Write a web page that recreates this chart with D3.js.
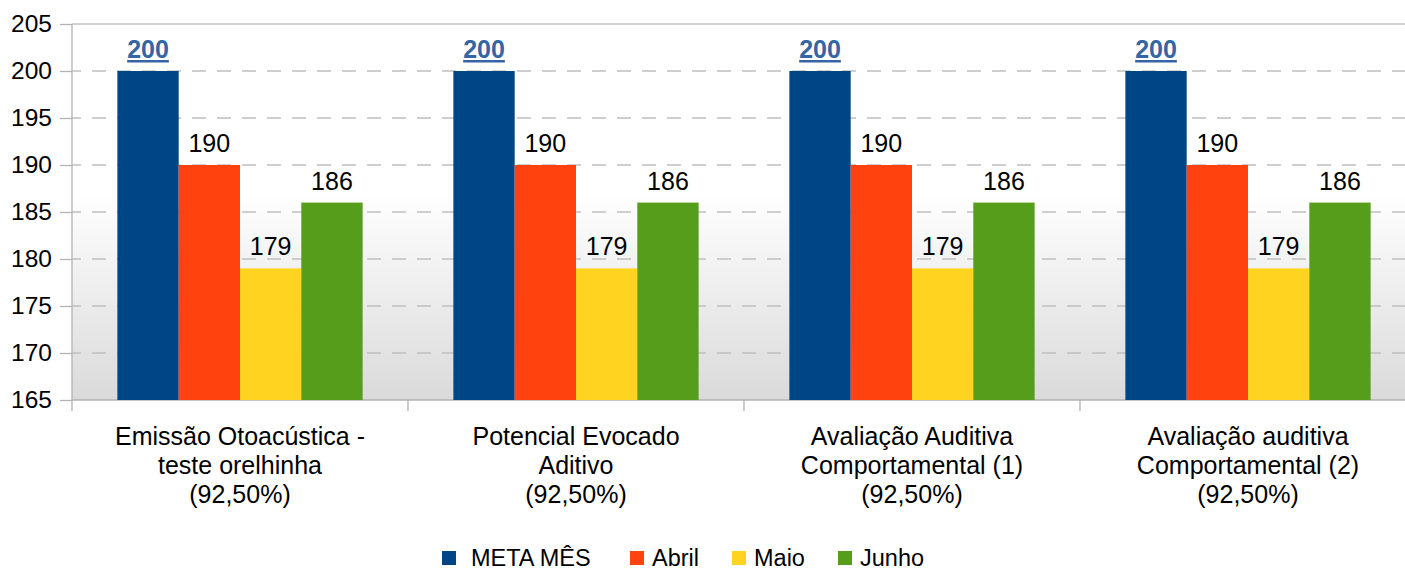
<!DOCTYPE html>
<html>
<head>
<meta charset="utf-8">
<script src="https://cdn.jsdelivr.net/npm/d3@7"></script>
<style>
  body { margin: 0; background: #fff; }
  svg { display: block; font-family: "Liberation Sans", Arial, sans-serif; }
</style>
</head>
<body>
<script>
(function(){

    //chart data
    var categories = [
        ["Emissão Otoacústica -", "teste orelhinha", "(92,50%)"],
        ["Potencial Evocado", "Aditivo", "(92,50%)"],
        ["Avaliação Auditiva", "Comportamental (1)", "(92,50%)"],
        ["Avaliação auditiva", "Comportamental (2)", "(92,50%)"]
    ];
    var seriesNames = ["META MÊS", "Abril", "Maio", "Junho"];
    var metaMes = [200, 200, 200, 200];
    var abril = [190, 190, 190, 190];
    var maio = [179, 179, 179, 179];
    var junho = [186, 186, 186, 186];
    var yTicks = [165, 170, 175, 180, 185, 190, 195, 200, 205];

    var colors = ["#004586", "#ff420e", "#ffd320", "#579d1c"];
    var seriesValues = [metaMes, abril, maio, junho];

    var width = 1405,
        height = 570;

    var svg = d3.select("body")
        .append("svg")
        .attr("width", width)
        .attr("height", height);

    //plot area
    var left = 72, top = 24, bottom = 400, right = 1416;

    var y = d3.scaleLinear()
        .domain([165, 205])
        .range([bottom, top]);

    var xCat = d3.scaleBand()
        .domain(d3.range(categories.length))
        .range([left, right])
        .padding(0);

    var xSer = d3.scaleBand()
        .domain(seriesNames)
        .range([0, xCat.bandwidth()])
        .paddingInner(0)
        .paddingOuter(0.74);

    //background gradient
    var defs = svg.append("defs");
    var grad = defs.append("linearGradient")
        .attr("id", "bg")
        .attr("x1", 0).attr("y1", 0)
        .attr("x2", 0).attr("y2", 1);
    grad.append("stop").attr("offset", "0.45").attr("stop-color", "#ffffff");
    grad.append("stop").attr("offset", "1").attr("stop-color", "#dadada");

    svg.append("rect")
        .attr("x", left)
        .attr("y", top)
        .attr("width", right - left)
        .attr("height", bottom - top)
        .attr("fill", "url(#bg)");

    //gridlines
    svg.selectAll(".grid")
        .data(yTicks.filter(function(d){ return d > 165; }))
        .enter()
        .append("line")
        .attr("class", "grid")
        .attr("x1", left)
        .attr("x2", width)
        .attr("y1", function(d){ return y(d); })
        .attr("y2", function(d){ return y(d); })
        .attr("stroke", "#c0c0c0")
        .attr("stroke-width", 1.3)
        .attr("stroke-dasharray", function(d){ return d === 205 ? null : "14,11"; })
        .attr("stroke-dashoffset", -20);

    //y axis
    var yAxis = svg.append("g")
        .attr("transform", "translate(" + left + ",0)")
        .call(d3.axisLeft(y).tickValues(yTicks).tickSize(12).tickPadding(8));
    yAxis.selectAll("line").attr("stroke", "#b3b3b3").attr("stroke-width", 1.3);
    yAxis.select(".domain").attr("stroke", "#b3b3b3").attr("stroke-width", 1.3)
        .attr("d", "M0," + top + "V" + bottom);
    yAxis.selectAll("text")
        .attr("font-size", 24.5)
        .attr("font-family", "Liberation Sans, Arial, sans-serif")
        .attr("fill", "#000");

    //x axis
    var xAxis = svg.append("g")
        .attr("transform", "translate(0," + bottom + ")");
    xAxis.append("line")
        .attr("x1", left).attr("x2", width)
        .attr("stroke", "#b3b3b3").attr("stroke-width", 1.3);
    xAxis.selectAll(".xtick")
        .data(d3.range(categories.length))
        .enter()
        .append("line")
        .attr("class", "xtick")
        .attr("x1", function(d){ return xCat(d); })
        .attr("x2", function(d){ return xCat(d); })
        .attr("y1", 0).attr("y2", 11)
        .attr("stroke", "#b3b3b3").attr("stroke-width", 1.3);

    //category labels
    var catLabels = svg.selectAll(".catLabel")
        .data(categories)
        .enter()
        .append("text")
        .attr("class", "catLabel")
        .attr("text-anchor", "middle")
        .attr("font-size", 25)
        .attr("fill", "#000");
    catLabels.each(function(lines, i){
        var cx = xCat(i) + xCat.bandwidth() / 2;
        d3.select(this).selectAll("tspan")
            .data(lines)
            .enter()
            .append("tspan")
            .attr("x", cx)
            .attr("y", function(d, j){ return 445 + j * 29; })
            .text(function(d){ return d; });
    });

    //bars
    var groups = svg.selectAll(".series")
        .data(seriesValues)
        .enter()
        .append("g")
        .attr("class", "series");

    groups.each(function(vals, s){
        var g = d3.select(this);
        g.selectAll("rect")
            .data(vals)
            .enter()
            .append("rect")
            .attr("x", function(d, i){ return xCat(i) + xSer(seriesNames[s]); })
            .attr("y", function(d){ return y(d); })
            .attr("width", xSer.bandwidth())
            .attr("height", function(d){ return bottom - y(d); })
            .attr("fill", colors[s]);

        g.selectAll("text")
            .data(vals)
            .enter()
            .append("text")
            .attr("x", function(d, i){ return xCat(i) + xSer(seriesNames[s]) + xSer.bandwidth() / 2; })
            .attr("y", function(d){ return y(d) - 13; })
            .attr("text-anchor", "middle")
            .attr("font-size", 25)
            .attr("font-weight", s === 0 ? "bold" : "normal")
            .attr("text-decoration", s === 0 ? "underline" : null)
            .attr("fill", s === 0 ? "#3465a4" : "#000")
            .text(function(d){ return d; });
    });

    //legend
    var legendX = [442, 630, 732, 838];
    var legend = svg.selectAll(".legend")
        .data(seriesNames)
        .enter()
        .append("g")
        .attr("class", "legend")
        .attr("transform", function(d, i){ return "translate(" + legendX[i] + ",551)"; });
    legend.append("rect")
        .attr("width", 14)
        .attr("height", 14)
        .attr("fill", function(d, i){ return colors[i]; });
    legend.append("text")
        .attr("x", function(d, i){ return i === 0 ? 29 : 22; })
        .attr("y", 15)
        .attr("font-size", 23.5)
        .attr("fill", "#000")
        .text(function(d){ return d; });

})();
</script>
</body>
</html>
